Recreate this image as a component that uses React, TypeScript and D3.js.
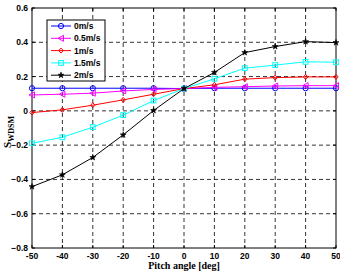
import { useMemo } from "react";
import * as d3 from "d3";

const W = 340;
const H = 271;
const MARGIN = { top: 8, right: 4, bottom: 23, left: 32 };

const pitch = [-50, -40, -30, -20, -10, 0, 10, 20, 30, 40, 50];
const s0 = [0.132, 0.132, 0.132, 0.132, 0.132, 0.13, 0.132, 0.132, 0.132, 0.132, 0.132];
const s05 = [0.093, 0.097, 0.103, 0.116, 0.125, 0.13, 0.137, 0.141, 0.145, 0.147, 0.147];
const s1 = [-0.01, 0.006, 0.033, 0.064, 0.097, 0.13, 0.152, 0.185, 0.194, 0.198, 0.198];
const s15 = [-0.189, -0.154, -0.095, -0.025, 0.06, 0.13, 0.187, 0.249, 0.267, 0.286, 0.284];
const s2 = [-0.442, -0.373, -0.272, -0.14, 0.002, 0.13, 0.224, 0.34, 0.375, 0.404, 0.398];

const xTicks = [-50, -40, -30, -20, -10, 0, 10, 20, 30, 40, 50];
const yTicks = [-0.8, -0.6, -0.4, -0.2, 0, 0.2, 0.4, 0.6];

const series = [
  { name: "0m/s", values: s0, color: "#0000ff", marker: "circle" },
  { name: "0.5m/s", values: s05, color: "#ff00ff", marker: "triangle" },
  { name: "1m/s", values: s1, color: "#ff0000", marker: "diamond" },
  { name: "1.5m/s", values: s15, color: "#00ffff", marker: "square" },
  { name: "2m/s", values: s2, color: "#000000", marker: "star" },
];

function Marker({ type, x, y, color }: { type: string; x: number; y: number; color: string }) {
  if (type === "circle") {
    return <circle cx={x} cy={y} r={2.6} fill="none" stroke={color} strokeWidth={1} />;
  }
  if (type === "triangle") {
    return (
      <path
        d={`M${x - 3},${y} L${x + 2.5},${y - 3} L${x + 2.5},${y + 3} Z`}
        fill="none"
        stroke={color}
        strokeWidth={1}
      />
    );
  }
  if (type === "diamond") {
    return (
      <path
        d={`M${x},${y - 2.5} L${x + 2.2},${y} L${x},${y + 2.5} L${x - 2.2},${y} Z`}
        fill="none"
        stroke={color}
        strokeWidth={1}
      />
    );
  }
  if (type === "square") {
    return <rect x={x - 2.4} y={y - 2.4} width={4.8} height={4.8} fill="none" stroke={color} strokeWidth={1} />;
  }
  const star = d3.symbol(d3.symbolStar, 11)();
  return <path d={star || ""} transform={`translate(${x},${y})`} fill={color} stroke={color} strokeWidth={0.6} />;
}

export default function App() {
  const iw = W - MARGIN.left - MARGIN.right;
  const ih = H - MARGIN.top - MARGIN.bottom;

  const { x, y, line } = useMemo(() => {
    const x = d3.scaleLinear().domain([-50, 50]).range([0, iw]);
    const y = d3.scaleLinear().domain([-0.8, 0.6]).range([ih, 0]);
    const line = d3
      .line<number>()
      .x((_, i) => x(pitch[i]))
      .y((d) => y(d));
    return { x, y, line };
  }, [iw, ih]);

  const tickFont = { fontFamily: "Arial, 'Liberation Sans', sans-serif", fontWeight: 700, fontSize: 8.5 };

  return (
    <div style={{ position: "absolute", left: 0, top: 0, width: W, height: H, background: "#fff" }}>
      <svg width={W} height={H} style={{ display: "block" }}>
        <rect width={W} height={H} fill="#fff" />
        <g transform={`translate(${MARGIN.left},${MARGIN.top})`}>
          {/* grid */}
          {xTicks.slice(1, -1).map((t) => (
            <line key={"gx" + t} x1={x(t)} x2={x(t)} y1={0} y2={ih} stroke="#000" strokeWidth={0.8} strokeDasharray="4,3" />
          ))}
          {yTicks.slice(1, -1).map((t) => (
            <line key={"gy" + t} x1={0} x2={iw} y1={y(t)} y2={y(t)} stroke="#000" strokeWidth={0.8} strokeDasharray="4,3" />
          ))}
          <rect x={0} y={0} width={iw} height={ih} fill="none" stroke="#000" strokeWidth={1} />

          {/* inward ticks */}
          {xTicks.map((t) => (
            <g key={"xk" + t}>
              <line x1={x(t)} x2={x(t)} y1={ih} y2={ih - 3} stroke="#000" />
              <line x1={x(t)} x2={x(t)} y1={0} y2={3} stroke="#000" />
            </g>
          ))}
          {yTicks.map((t) => (
            <g key={"yk" + t}>
              <line x1={0} x2={3} y1={y(t)} y2={y(t)} stroke="#000" />
              <line x1={iw} x2={iw - 3} y1={y(t)} y2={y(t)} stroke="#000" />
            </g>
          ))}

          {/* tick labels */}
          {xTicks.map((t) => (
            <text key={"xt" + t} x={x(t)} y={ih + 11} textAnchor="middle" {...tickFont}>
              {t}
            </text>
          ))}
          {yTicks.map((t) => (
            <text key={"yt" + t} x={-4} y={y(t) + 3} textAnchor="end" {...tickFont}>
              {t === 0 ? "0" : d3.format(".1f")(t)}
            </text>
          ))}

          {/* series */}
          {series.map((s) => (
            <g key={s.name}>
              <path d={line(s.values) || ""} fill="none" stroke={s.color} strokeWidth={1} />
              {s.values.map((v, i) => (
                <Marker key={i} type={s.marker} x={x(pitch[i])} y={y(v)} color={s.color} />
              ))}
            </g>
          ))}

          {/* legend */}
          <g transform="translate(15,12)">
            <rect x={0} y={0} width={58} height={61} fill="#fff" stroke="#000" strokeWidth={1} />
            {series.map((s, i) => {
              const ly = 6 + i * 12.3;
              return (
                <g key={"lg" + s.name}>
                  <line x1={4} x2={24} y1={ly} y2={ly} stroke={s.color} strokeWidth={1} />
                  <Marker type={s.marker} x={14} y={ly} color={s.color} />
                  <text x={27} y={ly + 3} {...tickFont} fontSize={8.5}>
                    {s.name}
                  </text>
                </g>
              );
            })}
          </g>
        </g>

        {/* axis labels */}
        <text
          x={MARGIN.left + iw / 2}
          y={269}
          textAnchor="middle"
          fontFamily="'Liberation Serif', 'Times New Roman', serif"
          fontWeight={700}
          fontSize={10}
        >
          Pitch angle [deg]
        </text>
        <text
          transform="translate(11,132) rotate(-90)"
          textAnchor="middle"
          fontFamily="'Liberation Serif', 'Times New Roman', serif"
          fontWeight={700}
          fontSize={11}
        >
          S
          <tspan fontSize={8} dy={3}>
            WDSM
          </tspan>
        </text>
      </svg>
    </div>
  );
}
